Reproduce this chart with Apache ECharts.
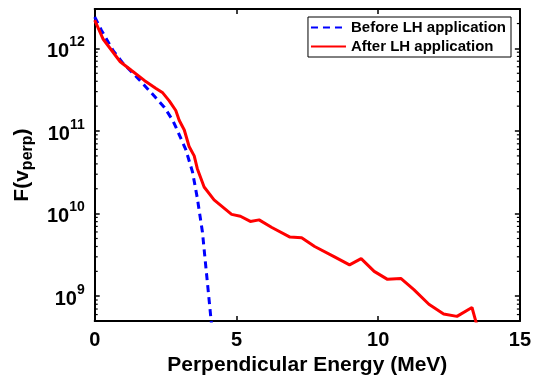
<!DOCTYPE html>
<html><head><meta charset="utf-8">
<script src="https://cdn.jsdelivr.net/npm/echarts@6/dist/echarts.min.js"></script>
<style>html,body{margin:0;padding:0;background:#fff}#c{width:534px;height:381px}</style>
</head><body><div id="c"></div>
<script>
// ---- data ----
const seriesNames = ['Before LH application', 'After LH application'];
const xTickValues = [0, 5, 10, 15];
const yMinorTicks = [6e8, 7e8, 8e8, 9e8,
  2e9, 3e9, 4e9, 5e9, 6e9, 7e9, 8e9, 9e9,
  2e10, 3e10, 4e10, 5e10, 6e10, 7e10, 8e10, 9e10,
  2e11, 3e11, 4e11, 5e11, 6e11, 7e11, 8e11, 9e11,
  2e12];

const beforeE = [0.00, 0.24, 0.65, 1.00, 1.52, 2.10, 2.46, 2.75, 2.86, 3.21, 3.45, 3.62, 3.80, 4.14];
const beforeF = [2.4e12, 1.65e12, 9.4e11, 6.6e11, 4.36e11, 2.65e11, 1.93e11, 1.35e11, 1.12e11, 6.0e10, 3.2e10, 1.54e10, 6.0e9, 3.9e8];

const afterE = [0.00, 0.30, 0.90, 1.30, 1.75, 2.15, 2.40, 2.63, 2.86, 2.98, 3.16, 3.33, 3.51, 3.62, 3.86, 4.21,
  4.83, 5.14, 5.49, 5.80, 6.25, 6.89, 7.30, 7.76, 8.46, 8.99, 9.40, 9.86, 10.33, 10.80, 11.26, 11.79,
  12.31, 12.78, 13.31, 13.60];
const afterF = [2.2e12, 1.29e12, 6.9e11, 5.4e11, 4.1e11, 3.3e11, 2.9e11, 2.32e11, 1.77e11, 1.35e11, 1.03e11, 6.5e10, 5.0e10, 3.5e10, 2.1e10, 1.47e10,
  9.8e9, 9.3e9, 8.05e9, 8.4e9, 6.8e9, 5.2e9, 5.1e9, 4.0e9, 3.0e9, 2.4e9, 2.85e9, 2.0e9, 1.6e9, 1.64e9, 1.2e9, 8.0e8,
  6.1e8, 5.7e8, 7.3e8, 3.2e8];

const xMin = 0, xMax = 15, yMin = 5e8, yMax = 3e12;

// ---- chart ----
const FONT = "'Liberation Sans', Arial, Helvetica, sans-serif";
const zip = (a, b) => a.map((v, i) => [v, b[i]]);
const chart = echarts.init(document.getElementById('c'), null, {renderer: 'canvas'});

const axisLineStyle = {color: '#000', width: 2};
const tickStyle = {color: '#000', width: 1.5};

function powLabel(v) {
  const l = Math.log10(v), e = Math.round(l);
  if (Math.abs(l - e) > 1e-6) return '';
  return '{b|10}{s|' + e + '}';
}

const option = {
  animation: false,
  backgroundColor: '#fff',
  grid: {left: 91, right: 14, top: 9, bottom: 52, containLabel: false},
  legend: {
    data: seriesNames, orient: 'vertical', right: 23, top: 17,
    backgroundColor: '#fff', borderColor: '#000', borderWidth: 1,
    padding: [3, 5, 3, 2], itemWidth: 35, itemHeight: 14, itemGap: 4,
    itemStyle: {opacity: 0},
    textStyle: {fontFamily: FONT, fontSize: 15, fontWeight: 'bold', color: '#000'}
  },
  xAxis: [
    {
      type: 'value', position: 'bottom', min: xMin, max: xMax, interval: 5,
      axisLine: {onZero: false, lineStyle: axisLineStyle},
      axisTick: {inside: true, length: 5, lineStyle: tickStyle},
      splitLine: {show: false},
      axisLabel: {margin: 9, fontFamily: FONT, fontSize: 20, fontWeight: 'bold', color: '#000'},
      name: 'Perpendicular Energy (MeV)', nameLocation: 'middle', nameGap: 29,
      nameTextStyle: {fontFamily: FONT, fontSize: 21, fontWeight: 'bold', color: '#000'}
    },
    {
      type: 'value', position: 'top', min: xMin, max: xMax, interval: 5,
      axisLine: {onZero: false, lineStyle: axisLineStyle},
      axisTick: {inside: true, length: 5, lineStyle: tickStyle},
      splitLine: {show: false}, axisLabel: {show: false}
    }
  ],
  yAxis: [
    {
      type: 'log', logBase: 10, position: 'left', min: yMin, max: yMax,
      axisLine: {show: true, onZero: false, lineStyle: axisLineStyle},
      axisTick: {inside: true, length: 5, lineStyle: tickStyle},
      splitLine: {show: false},
      axisLabel: {
        show: true, margin: 10,
        formatter: powLabel,
        rich: {
          b: {fontFamily: FONT, fontSize: 20, fontWeight: 'bold', color: '#000', lineHeight: 20, padding: [6, 0, 0, 0]},
          s: {fontFamily: FONT, fontSize: 14, fontWeight: 'bold', color: '#000', lineHeight: 14, padding: [0, 0, 12, 0]}
        }
      },
      name: '{m|F(v}{sub|perp}{m|)}', nameLocation: 'middle', nameGap: 52, nameRotate: 90,
      nameTextStyle: {
        rich: {
          m: {fontFamily: FONT, fontSize: 21, fontWeight: 'bold', color: '#000', lineHeight: 22},
          sub: {fontFamily: FONT, fontSize: 16, fontWeight: 'bold', color: '#000', lineHeight: 16, padding: [12, 0, 0, 0]}
        }
      }
    },
    {
      type: 'log', logBase: 10, position: 'right', min: yMin, max: yMax,
      axisLine: {show: true, onZero: false, lineStyle: axisLineStyle},
      axisTick: {inside: true, length: 5, lineStyle: tickStyle},
      splitLine: {show: false}, axisLabel: {show: false}
    }
  ],
  series: [
    {
      name: 'minorTicks', type: 'custom', xAxisIndex: 0, yAxisIndex: 0, silent: true, clip: false, z: 1,
      data: yMinorTicks.map(v => [xMin, v]),
      renderItem: function (params, api) {
        const v = api.value(1);
        const pL = api.coord([xMin, v]);
        const pR = api.coord([xMax, v]);
        return {type: 'group', children: [
          {type: 'line', shape: {x1: pL[0], y1: pL[1], x2: pL[0] + 3, y2: pL[1]}, style: {stroke: '#000', lineWidth: 1.2}},
          {type: 'line', shape: {x1: pR[0], y1: pR[1], x2: pR[0] - 3, y2: pR[1]}, style: {stroke: '#000', lineWidth: 1.2}}
        ]};
      }
    },
    {
      name: seriesNames[0], type: 'line', xAxisIndex: 0, yAxisIndex: 0,
      data: zip(beforeE, beforeF), symbol: 'none', showSymbol: false, clip: true,
      lineStyle: {color: '#0000ff', width: 3, type: [7, 5]},
      itemStyle: {color: '#0000ff'}, z: 2
    },
    {
      name: seriesNames[1], type: 'line', xAxisIndex: 0, yAxisIndex: 0,
      data: zip(afterE, afterF), symbol: 'none', showSymbol: false, clip: true,
      lineStyle: {color: '#ff0000', width: 3},
      itemStyle: {color: '#ff0000'}, z: 3
    }
  ]
};
chart.setOption(option);
</script>
</body></html>
